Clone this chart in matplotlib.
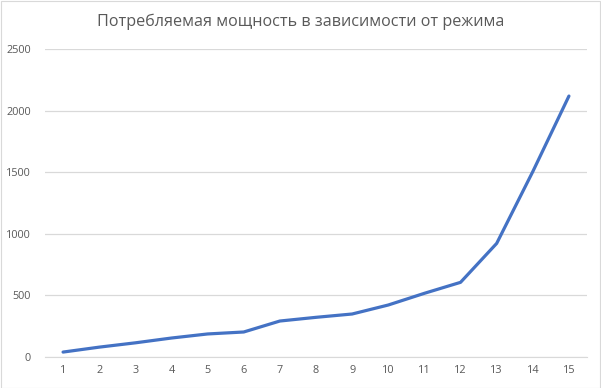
import matplotlib
matplotlib.use("Agg")
import matplotlib.pyplot as plt
from matplotlib.patches import Rectangle

modes = list(range(1, 15 + 1))
power = [40, 80, 115, 154, 187, 203, 292, 322, 349, 422, 517, 606, 922, 1505, 2118]
yticks = [0, 500, 1000, 1500, 2000, 2500]
title = "Потребляемая мощность в зависимости от режима"

plt.rcParams['font.family'] = ['Open Sans', 'DejaVu Sans']

fig = plt.figure(figsize=(6.01, 3.88), dpi=100)
ax = fig.add_axes([45/601, 1 - 357/388, (587 - 45)/601, (357 - 49)/388])

ax.plot(modes, power, color='#4472C4', linewidth=2.3, solid_joinstyle='round', solid_capstyle='round')
ax.set_xlim(0.5, 15.5)
ax.set_ylim(0, 2500)
ax.set_yticks(yticks)
ax.set_xticks(modes)
ax.grid(axis='y', color='#D9D9D9', linewidth=0.9)
ax.set_axisbelow(True)
for s in ['top', 'right', 'left']:
    ax.spines[s].set_visible(False)
ax.spines['bottom'].set_color('#D9D9D9')
ax.tick_params(axis='both', length=0, labelsize=7.8, colors='#595959')
ax.tick_params(axis='y', pad=10)
ax.tick_params(axis='x', pad=6)

fig.text(0.5, 1 - 22/388, title, ha='center', va='center', fontsize=11.6, color='#595959')
fig.patches.append(Rectangle((0.5/601, 0.5/388), 1 - 1.5/601, 1 - 1.5/388, transform=fig.transFigure,
                             fill=False, edgecolor='#D9D9D9', linewidth=0.8))

fig.savefig('out.png', dpi=100)
